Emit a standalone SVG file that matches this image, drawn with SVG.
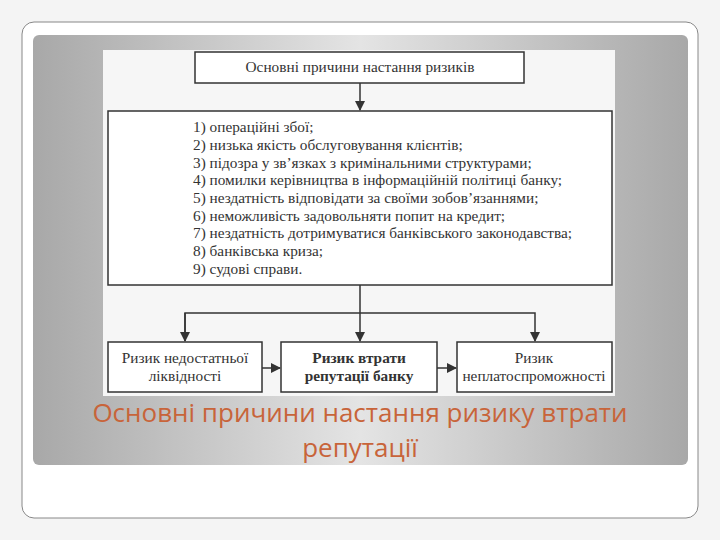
<svg xmlns="http://www.w3.org/2000/svg" width="720" height="540" viewBox="0 0 720 540">
<defs>
<linearGradient id="pn" x1="0" y1="0" x2="1" y2="0"><stop offset="0" stop-color="#a8a8a8"/><stop offset="0.5" stop-color="#e4e4e4"/><stop offset="1" stop-color="#a8a8a8"/></linearGradient>
<marker id="ah" markerWidth="10" markerHeight="10" refX="9" refY="5" orient="auto" markerUnits="userSpaceOnUse"><path d="M0,0 L10,5 L0,10 Z" fill="#333"/></marker>
<style>
.b{fill:#fff;stroke:#333;stroke-width:1.5}
.t{font-family:"Liberation Serif",serif;font-size:15.3px;fill:#333}
.c{stroke:#333;stroke-width:1.5;fill:none}
</style>
</defs>
<rect width="720" height="540" fill="#f4f4f4"/>
<rect x="22" y="22" width="676" height="496" rx="12" fill="#fff" stroke="#888" stroke-width="1"/>
<rect x="33" y="35" width="655" height="430" rx="6" fill="url(#pn)"/>
<rect x="103" y="50" width="512" height="346" fill="#f6f6f6"/>
<g id="n0"><rect class="b" x="195" y="52" width="329" height="31"/><text class="t" x="360" y="72" text-anchor="middle">Основні причини настання ризиків</text></g>
<g id="n1"><rect class="b" x="108" y="111" width="504" height="174"/>
<text class="t" x="193" y="132">1) операційні збої;</text>
<text class="t" x="193" y="150">2) низька якість обслуговування клієнтів;</text>
<text class="t" x="193" y="168">3) підозра у зв’язках з кримінальними структурами;</text>
<text class="t" x="193" y="185">4) помилки керівництва в інформаційній політиці банку;</text>
<text class="t" x="193" y="203">5) нездатність відповідати за своїми зобов’язаннями;</text>
<text class="t" x="193" y="221">6) неможливість задовольняти попит на кредит;</text>
<text class="t" x="193" y="238">7) нездатність дотримуватися банківського законодавства;</text>
<text class="t" x="193" y="256">8) банківська криза;</text>
<text class="t" x="193" y="274">9) судові справи.</text></g>
<g id="n2"><rect class="b" x="108" y="342" width="154" height="50"/><text class="t" x="185" y="363" text-anchor="middle">Ризик недостатньої</text><text class="t" x="185" y="381" text-anchor="middle">ліквідності</text></g>
<g id="n3"><rect class="b" x="281" y="342" width="156" height="50"/><text class="t" x="359" y="363" text-anchor="middle" font-weight="bold">Ризик втрати</text><text class="t" x="359" y="381" text-anchor="middle" font-weight="bold">репутації банку</text></g>
<g id="n4"><rect class="b" x="457" y="342" width="155" height="50"/><text class="t" x="534" y="363" text-anchor="middle">Ризик</text><text class="t" x="534" y="381" text-anchor="middle">неплатоспроможності</text></g>
<g id="connectors">
<path class="c" d="M360,83 V110" marker-end="url(#ah)"/>
<path class="c" d="M360,285 V341" marker-end="url(#ah)"/>
<path class="c" d="M185,341 V313 H535 V341" marker-end="url(#ah)"/>
<path class="c" d="M185,313 V341" marker-end="url(#ah)"/>
<path class="c" d="M262,368 H280" marker-end="url(#ah)"/>
<path class="c" d="M437,368 H456" marker-end="url(#ah)"/>
</g>
<text x="360" y="422" text-anchor="middle" font-family="'Open Sans',sans-serif" font-size="26" fill="#c8643a">Основні причини настання ризику втрати</text>
<text x="360" y="457" text-anchor="middle" font-family="'Open Sans',sans-serif" font-size="26" fill="#c8643a">репутації</text>
</svg>
